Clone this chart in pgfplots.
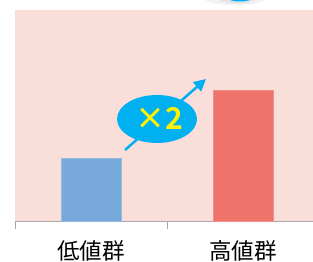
\documentclass[border=0pt]{standalone}
\usepackage{pgfplots}
\pgfplotsset{compat=1.18}
\usepackage{fontspec}
\newfontfamily\cjk{Noto Sans CJK JP}
\newfontfamily\cjkbold{Noto Sans CJK JP Bold}
\usetikzlibrary{arrows.meta}
\definecolor{bgpink}{HTML}{FADEDA}
\definecolor{barblue}{HTML}{77AADB}
\definecolor{barred}{HTML}{EE736B}
\definecolor{cyanx}{HTML}{00B0F0}
\definecolor{axgray}{HTML}{A8A8A8}
\begin{document}
\begin{tikzpicture}[x=1pt,y=1pt]
\begin{axis}[
  scale only axis, width=298pt, height=211pt,
  xmin=-0.5, xmax=1.4605, ymin=0, ymax=3.35,
  axis background/.style={fill=bgpink},
  axis x line*=bottom, axis y line=none,
  axis line style={draw=axgray, line width=1pt, -},
  xtick={0,1}, xticklabels={低値群,高値群},
  major tick length=0pt,
  minor xtick={-0.5,0.5},
  minor tick length=8pt,
  tick align=outside,
  minor tick style={draw=axgray, line width=1pt},
  xticklabel style={font=\cjk\fontsize{22.5}{22.5}\selectfont, text=black, anchor=north, inner ysep=0pt, text height=19pt, text depth=0pt, yshift=-19pt},
  ytick=\empty,
  clip=false,
]
\addplot[ybar, bar width=60pt, fill=barblue, draw=barblue!80!white, bar shift=0pt] coordinates {(0,1.0)};
\addplot[ybar, bar width=60pt, fill=barred, draw=barred!80!white, bar shift=0pt] coordinates {(1,2.07)};
\coordinate (O) at (axis cs:-0.5,0);
\end{axis}
\pgfresetboundingbox
\begin{scope}[shift={(O)}, shift={(-15,-41)}]
\useasboundingbox (0,0) rectangle (313,262);
% top partial shape
\fill[gray!10] (235,263) ellipse [x radius=30, y radius=6];
\fill[gray!22] (237,263) ellipse [x radius=18, y radius=4.5];
\fill[cyanx] (240,264) ellipse [x radius=12, y radius=3.5];
\draw[cyanx, line width=2.5pt, -{Triangle[length=12pt,width=12pt]}] (125,112) -- (206,183);
\fill[cyanx] (157,143) ellipse [x radius=40, y radius=24];
\node[text=yellow, font=\cjkbold\fontsize{30}{30}\selectfont, inner sep=0pt] at (159,144) {×2};
\end{scope}
\end{tikzpicture}
\end{document}
